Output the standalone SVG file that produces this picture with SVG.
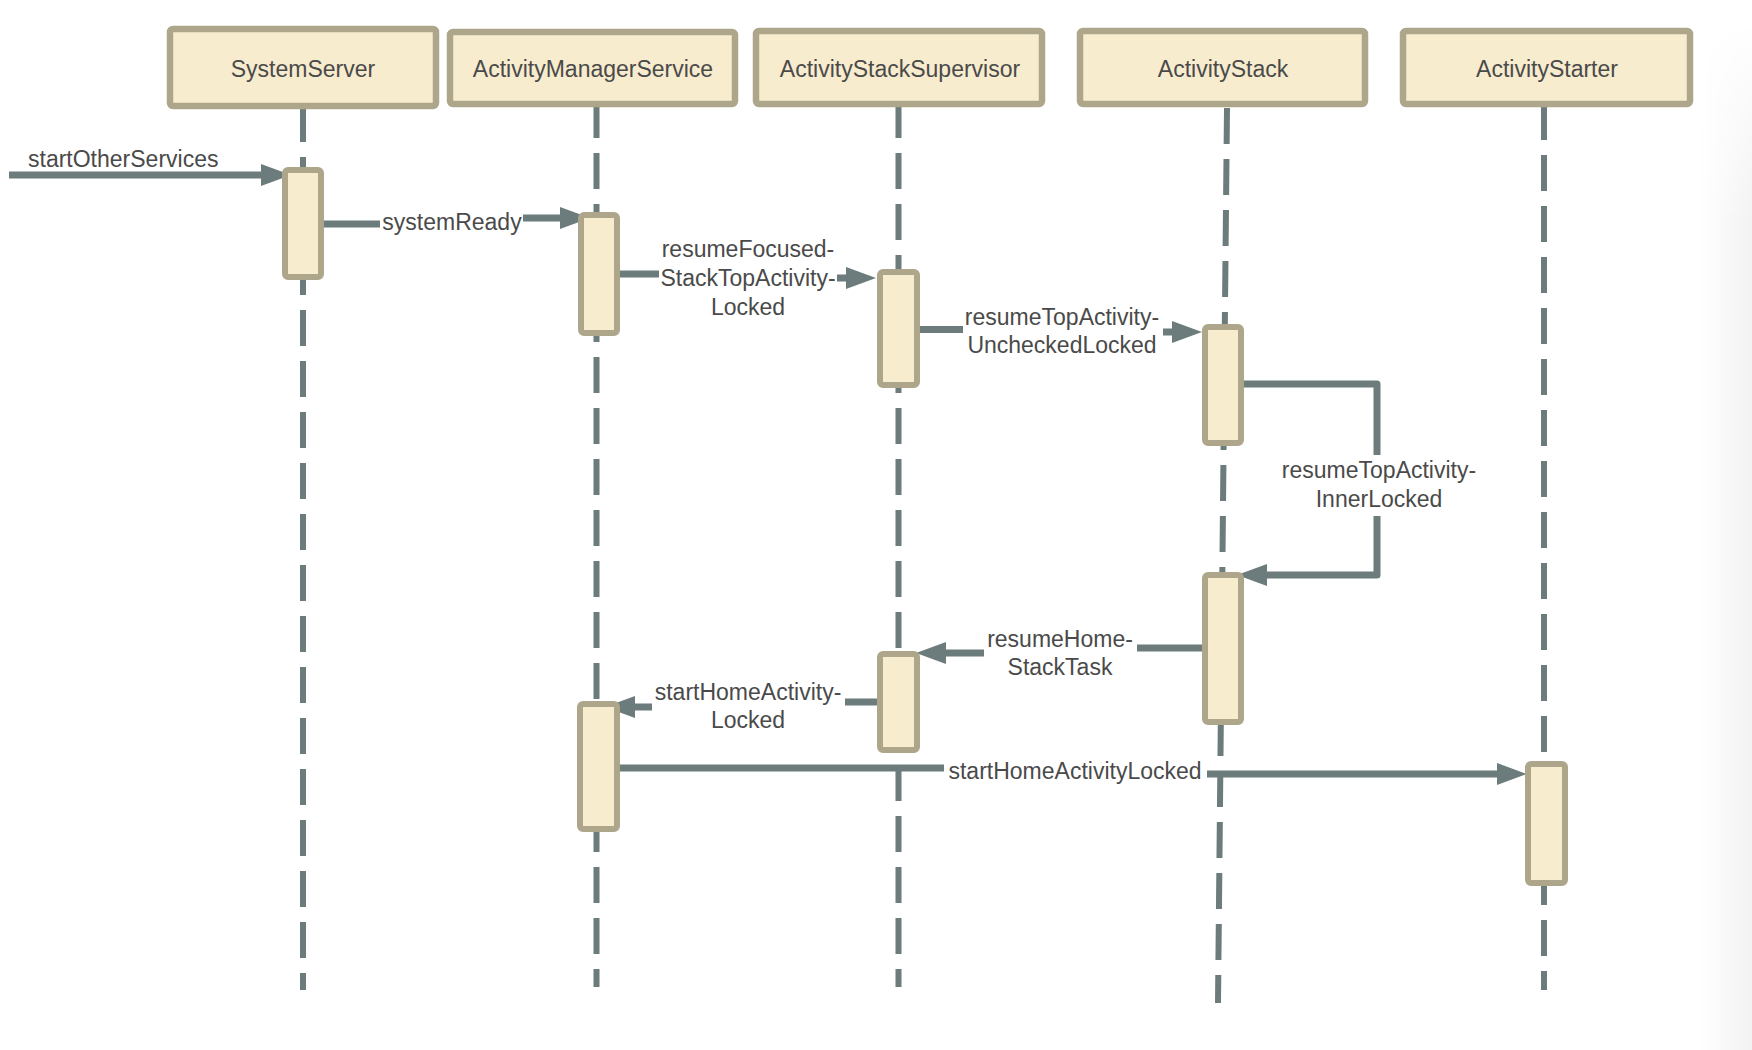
<svg xmlns="http://www.w3.org/2000/svg" width="1752" height="1050" viewBox="0 0 1752 1050">
  <defs>
    <style>
      .head { fill: #f8ecce; stroke: #aea68b; stroke-width: 6.5; }
      .act { fill: #f8ecce; stroke: #aea68b; stroke-width: 6; }
      .life { stroke: #6c7b7b; stroke-width: 6; stroke-dasharray: 36 15; fill: none; }
      .msg { stroke: #6c7b7b; stroke-width: 7; fill: none; stroke-linejoin: round; marker-end: url(#arrow); }
      .t { font-family: "Liberation Sans", Arial, Helvetica, sans-serif; font-size: 23px; fill: #4a4a4a; }
      .c { text-anchor: middle; }
      .bg { fill: #ffffff; }
    </style>
    <marker id="arrow" markerUnits="userSpaceOnUse" markerWidth="30" markerHeight="22" viewBox="0 0 30 22" refX="0" refY="11" orient="auto">
      <path d="M0,0 L30,11 L0,22 Z" fill="#6c7b7b"/>
    </marker>
    <linearGradient id="edge" x1="0" y1="0" x2="1" y2="0">
      <stop offset="0" stop-color="#000" stop-opacity="0"/>
      <stop offset="1" stop-color="#000" stop-opacity="0.05"/>
    </linearGradient>
    <linearGradient id="edgefade" x1="0" y1="0" x2="0" y2="1">
      <stop offset="0" stop-color="#fff" stop-opacity="0"/>
      <stop offset="0.2" stop-color="#fff" stop-opacity="1"/>
      <stop offset="1" stop-color="#fff" stop-opacity="1"/>
    </linearGradient>
    <mask id="edgemask" maskUnits="userSpaceOnUse" x="1690" y="0" width="62" height="1050">
      <rect x="1690" y="20" width="62" height="1030" fill="url(#edgefade)"/>
    </mask>
  </defs>

  <rect x="0" y="0" width="1752" height="1050" fill="#ffffff"/>
  <rect x="1700" y="20" width="52" height="1030" fill="url(#edge)" mask="url(#edgemask)"/>

  <g id="lifelines">
    <line class="life" x1="303" y1="106" x2="303" y2="990"/>
    <line class="life" x1="596.5" y1="102" x2="596.5" y2="987"/>
    <line class="life" x1="898.5" y1="102" x2="898.5" y2="987"/>
    <line class="life" x1="1227" y1="108" x2="1218" y2="1003"/>
    <line class="life" x1="1544" y1="104" x2="1544" y2="990"/>
  </g>

  <g id="SystemServer">
    <rect class="head" x="170" y="29" width="266" height="77" rx="3"/>
    <text class="t c" x="303" y="77">SystemServer</text>
  </g>
  <g id="ActivityManagerService">
    <rect class="head" x="450" y="32" width="285" height="72" rx="3"/>
    <text class="t c" x="593" y="77">ActivityManagerService</text>
  </g>
  <g id="ActivityStackSupervisor">
    <rect class="head" x="756" y="31" width="286" height="73" rx="3"/>
    <text class="t c" x="900" y="77">ActivityStackSupervisor</text>
  </g>
  <g id="ActivityStack">
    <rect class="head" x="1080" y="31" width="285" height="73" rx="3"/>
    <text class="t c" x="1223" y="77">ActivityStack</text>
  </g>
  <g id="ActivityStarter">
    <rect class="head" x="1403" y="31" width="287" height="73" rx="3"/>
    <text class="t c" x="1547" y="77">ActivityStarter</text>
  </g>

  <g id="connectors">
    <g id="m1">
      <path class="msg" d="M9,175 H261"/>
      <text class="t" x="28" y="167">startOtherServices</text>
    </g>
    <g id="m2">
      <path class="msg" d="M324,224 H452 V218 H560"/>
      <rect class="bg" x="380" y="209" width="143" height="27"/>
      <text class="t c" x="452" y="230">systemReady</text>
    </g>
    <g id="m3">
      <path class="msg" d="M620,274 H748 V278 H846"/>
      <rect class="bg" x="659" y="238" width="178" height="84"/>
      <text class="t c" x="748" y="257">resumeFocused-</text>
      <text class="t c" x="748" y="286">StackTopActivity-</text>
      <text class="t c" x="748" y="315">Locked</text>
    </g>
    <g id="m4">
      <path class="msg" d="M920,329.5 H1062 V332 H1172"/>
      <rect class="bg" x="963" y="306" width="200" height="54"/>
      <text class="t c" x="1062" y="325">resumeTopActivity-</text>
      <text class="t c" x="1062" y="353">UncheckedLocked</text>
    </g>
    <g id="m5">
      <path class="msg" d="M1244,384 H1377 V575 H1267"/>
      <rect class="bg" x="1279" y="455" width="200" height="61"/>
      <text class="t c" x="1379" y="478">resumeTopActivity-</text>
      <text class="t c" x="1379" y="507">InnerLocked</text>
    </g>
    <g id="m6">
      <path class="msg" d="M1202,648 H1060 V653 H946"/>
      <rect class="bg" x="984" y="628" width="153" height="53"/>
      <text class="t c" x="1060" y="647">resumeHome-</text>
      <text class="t c" x="1060" y="675">StackTask</text>
    </g>
    <g id="m7">
      <path class="msg" d="M877,702 H748 V707 H635"/>
      <rect class="bg" x="652" y="681" width="193" height="53"/>
      <text class="t c" x="748" y="700">startHomeActivity-</text>
      <text class="t c" x="748" y="728">Locked</text>
    </g>
    <g id="m8">
      <path class="msg" d="M620,768 H1075 V774 H1497"/>
      <rect class="bg" x="944" y="757" width="263" height="28"/>
      <text class="t c" x="1075" y="779">startHomeActivityLocked</text>
    </g>
  </g>

  <g id="act-SystemServer-1"><rect class="act" x="285" y="170" width="36" height="107" rx="3"/></g>
  <g id="act-AMS-1"><rect class="act" x="581" y="215" width="36" height="118" rx="3"/></g>
  <g id="act-ASS-1"><rect class="act" x="880" y="272" width="37" height="113" rx="3"/></g>
  <g id="act-AS-1"><rect class="act" x="1205" y="327" width="36" height="116" rx="3"/></g>
  <g id="act-AS-2"><rect class="act" x="1205" y="575" width="36" height="147" rx="3"/></g>
  <g id="act-ASS-2"><rect class="act" x="880" y="654" width="37" height="96" rx="3"/></g>
  <g id="act-AMS-2"><rect class="act" x="580" y="704" width="37" height="125" rx="3"/></g>
  <g id="act-Starter-1"><rect class="act" x="1528" y="764" width="37" height="119" rx="3"/></g>
</svg>
